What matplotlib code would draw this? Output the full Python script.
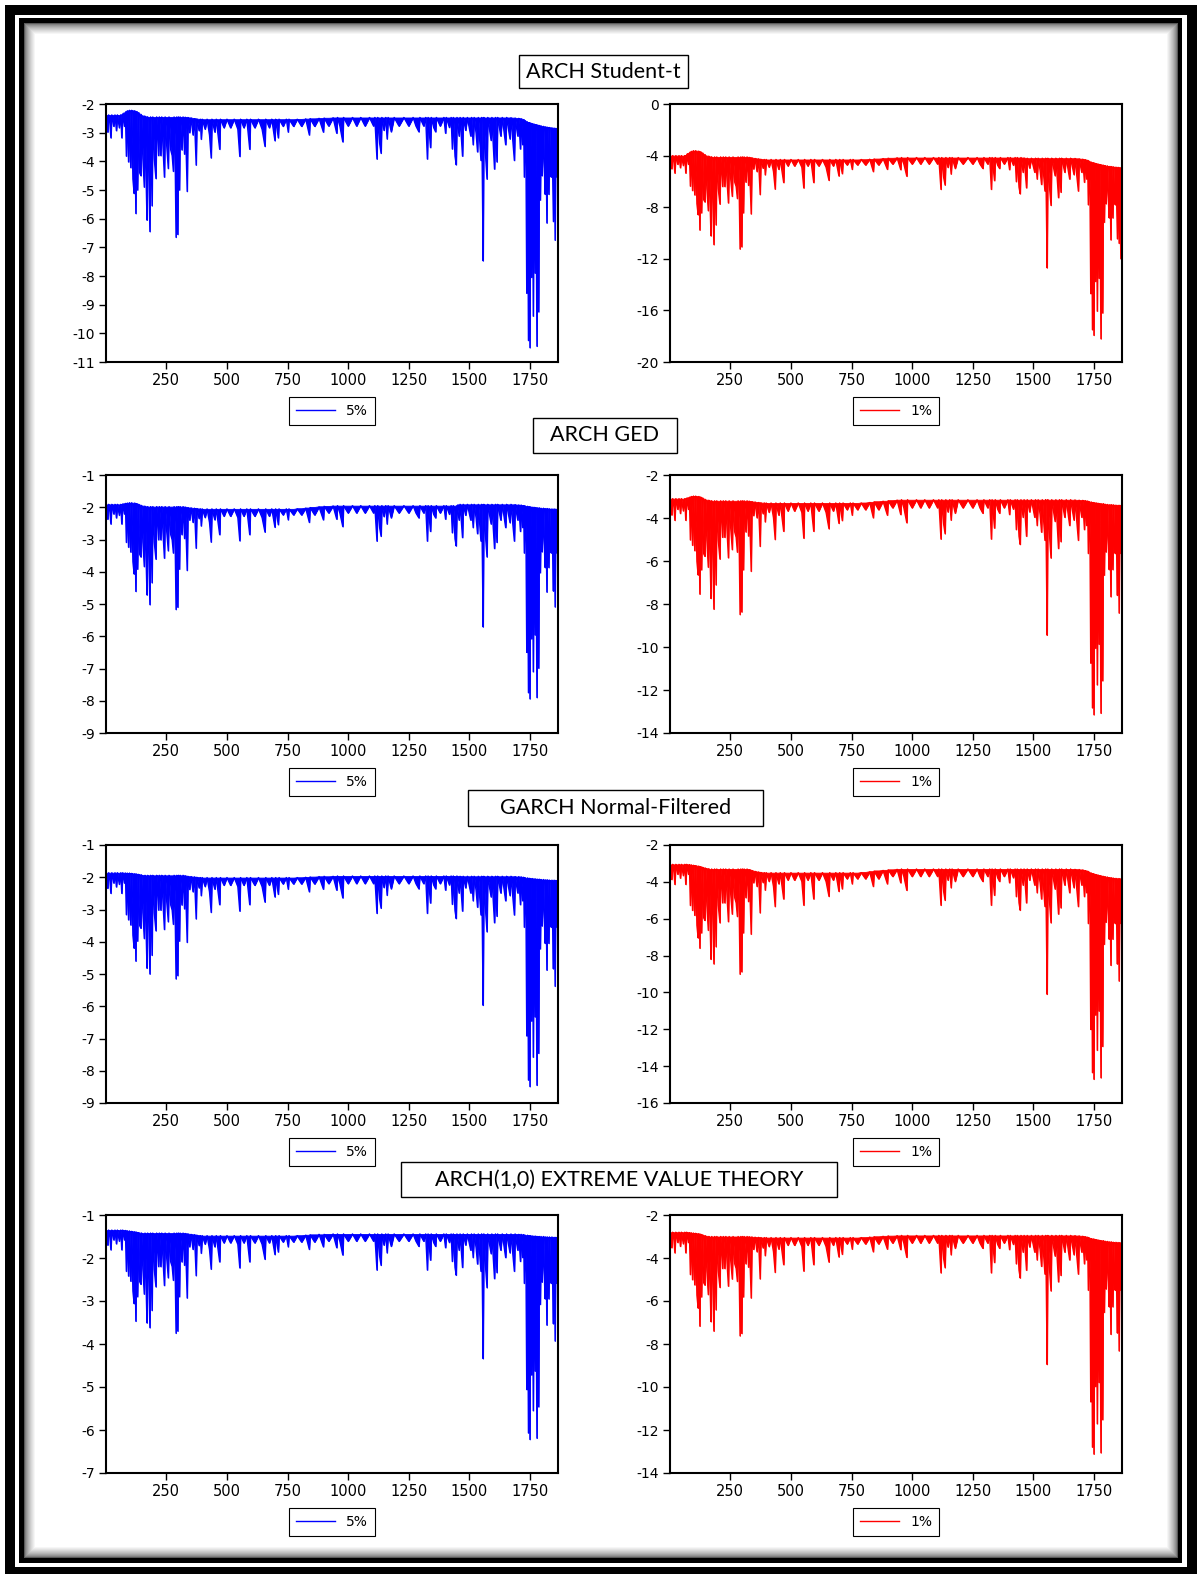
import numpy as np
import pandas as pd
import matplotlib
matplotlib.use("Agg")
import matplotlib.pyplot as plt
from matplotlib.patches import Rectangle

plt.rcParams['axes.unicode_minus'] = False
plt.rcParams['font.family'] = ['DejaVu Sans']

# observation index of each sampled point (shared by all series)
obs = [1, 5, 8, 12, 17, 21, 25, 33, 38, 44, 48, 56, 62, 66, 70, 77,
       81, 85, 89, 94, 98, 103, 107, 112, 117, 120, 124, 127,
       131, 135, 140, 145, 148, 153, 159, 162, 166, 170, 173, 177, 182, 185, 191, 194, 200, 207, 210, 218, 221, 227, 231, 236, 242, 245, 251, 258, 261, 268, 274, 279, 282, 286, 290, 293, 297, 300, 304, 307, 314, 319, 325, 328, 336, 339, 346,
       352, 360, 366, 373, 376, 385, 390, 394, 398, 410, 418, 428, 435, 438, 450, 456, 470, 473, 488, 500, 515, 530, 545, 553, 556, 570, 582, 594, 597, 615, 630, 645, 657, 660, 675, 685, 698, 701, 712, 715, 732, 745, 753, 756, 775, 790, 808, 825, 840, 843, 862, 880, 898,
       901, 920, 938, 953, 956, 966, 978, 981, 1000, 1018, 1035, 1052, 1070, 1088, 1105, 1110, 1119, 1122, 1130, 1136, 1139, 1148, 1155, 1161, 1165, 1178, 1190, 1210, 1230, 1250, 1268, 1280, 1292, 1296, 1312, 1320, 1327, 1330, 1340, 1343, 1353, 1361, 1364, 1380, 1395, 1402, 1405, 1418, 1425, 1430, 1434, 1441, 1446, 1449,
       1458, 1462, 1472, 1475, 1485, 1492, 1506, 1509, 1516, 1520, 1528, 1534, 1537, 1548, 1551, 1554, 1557, 1560, 1565, 1573, 1576, 1590, 1593, 1604, 1608, 1614, 1617, 1630, 1636, 1650, 1654, 1668, 1672, 1686, 1689, 1700, 1704, 1711, 1714, 1720,
       1724, 1727, 1730, 1734, 1737, 1740, 1744, 1747, 1750, 1753, 1757, 1760, 1764, 1767, 1771, 1774, 1779, 1782, 1786, 1789, 1793, 1796, 1800, 1803, 1806, 1810, 1813, 1816, 1820, 1823, 1828, 1831, 1835, 1838, 1841, 1844, 1847, 1850, 1854, 1857, 1861, 1864, 1866]

# ARCH Student-t
stud_5 = [-2.38, -2.78, -2.98, -2.38, -2.68, -3.18, -2.38, -2.78, -2.38, -2.93, -2.38, -2.83, -2.38, -3.18, -2.36, -2.78,
          -2.3, -3.82, -2.24, -4.02, -2.22, -4.22, -2.22, -4.62, -5.12, -2.24, -5.82, -2.28,
          -5.0, -2.34, -4.4, -4.5, -2.4, -3.9, -4.9, -2.43, -4.4, -6.05, -2.45, -4.2, -6.45, -2.45, -5.55, -2.45, -3.9, -4.6, -2.45, -3.8, -2.45, -3.8, -2.45, -3.5, -4.55, -2.45, -3.4, -4.25, -2.45, -3.6, -3.8, -4.35, -2.45, -3.7, -6.65, -2.45, -6.55, -2.45, -5.0, -2.45, -3.6, -2.45, -3.75, -2.46, -5.05, -2.47, -3.0,
          -2.49, -3.08, -2.51, -4.13, -2.52, -2.93, -2.53, -3.23, -2.53, -2.88, -2.53, -3.08, -3.88, -2.53, -2.98, -2.53, -3.58, -2.53, -2.83, -2.53, -2.83, -2.53, -2.88, -3.83, -2.53, -2.83, -2.53, -3.58, -2.53, -2.83, -2.53, -2.88, -3.48, -2.53, -2.83, -2.53, -3.28, -2.53, -3.18, -2.53, -2.78, -2.53, -2.98, -2.53, -2.78, -2.53, -2.78, -2.52, -3.08, -2.51, -2.78, -2.5, -2.98,
          -2.49, -2.77, -2.48, -3.02, -2.47, -2.77, -3.32, -2.47, -2.77, -2.47, -2.77, -2.47, -2.77, -2.47, -2.77, -2.47, -3.92, -2.47, -3.37, -3.72, -2.47, -2.92, -2.47, -3.22, -2.47, -2.97, -2.47, -2.77, -2.47, -2.77, -2.47, -2.77, -2.97, -2.47, -2.77, -2.47, -3.92, -2.47, -3.52, -2.47, -2.82, -2.97, -2.47, -2.77, -2.47, -3.02, -2.47, -2.82, -2.47, -3.57, -2.47, -3.82, -4.12, -2.47,
          -3.12, -2.47, -3.82, -2.47, -2.92, -2.47, -3.12, -2.47, -3.42, -2.47, -3.02, -3.67, -2.47, -3.97, -2.47, -4.77, -7.47, -2.47, -3.52, -4.62, -2.47, -3.27, -2.47, -4.27, -2.47, -4.02, -2.47, -3.12, -2.47, -3.42, -2.47, -3.22, -2.48, -3.97, -2.49, -3.12, -2.5, -3.57, -2.52, -3.42,
          -2.56, -4.55, -2.6, -4.2, -8.6, -2.63, -10.25, -2.65, -10.5, -2.67, -8.05, -2.69, -9.4, -2.7, -7.9, -2.72, -10.45, -2.74, -9.25, -2.75, -5.35, -2.77, -4.5, -3.9, -2.78, -4.4, -5.15, -2.8, -6.15, -2.81, -5.15, -2.82, -4.2, -4.55, -2.83, -4.6, -6.1, -2.84, -6.75, -2.85, -4.55, -2.86, -2.86]
stud_1 = [-4.0, -4.68, -5.02, -4.0, -4.51, -5.36, -4.0, -4.68, -4.0, -4.94, -4.0, -4.77, -4.0, -5.36, -3.95, -4.68,
          -3.8, -6.37, -3.68, -6.71, -3.62, -7.05, -3.62, -7.73, -8.58, -3.66, -9.77, -3.75,
          -8.44, -3.88, -7.42, -7.59, -4.0, -6.57, -8.27, -4.06, -7.42, -10.22, -4.1, -7.08, -10.9, -4.1, -9.37, -4.1, -6.57, -7.76, -4.1, -6.4, -4.1, -6.4, -4.1, -5.89, -7.67, -4.1, -5.72, -7.16, -4.1, -6.06, -6.4, -7.33, -4.1, -6.23, -11.24, -4.1, -11.07, -4.1, -8.44, -4.1, -6.06, -4.1, -6.31, -4.14, -8.52, -4.18, -5.04,
          -4.22, -5.24, -4.26, -7.02, -4.28, -4.98, -4.3, -5.49, -4.3, -4.9, -4.3, -5.24, -6.6, -4.3, -5.07, -4.3, -6.09, -4.3, -4.81, -4.3, -4.81, -4.3, -4.9, -6.51, -4.3, -4.81, -4.3, -6.09, -4.3, -4.81, -4.3, -4.9, -5.92, -4.3, -4.81, -4.3, -5.58, -4.3, -5.4, -4.3, -4.73, -4.3, -5.07, -4.3, -4.73, -4.3, -4.73, -4.28, -5.24, -4.26, -4.73, -4.23, -5.07,
          -4.2, -4.66, -4.17, -5.09, -4.15, -4.66, -5.6, -4.15, -4.66, -4.15, -4.66, -4.15, -4.66, -4.15, -4.66, -4.15, -6.62, -4.15, -5.68, -6.28, -4.15, -4.92, -4.15, -5.43, -4.15, -5.0, -4.15, -4.66, -4.15, -4.66, -4.15, -4.66, -5.0, -4.15, -4.66, -4.15, -6.62, -4.15, -5.94, -4.15, -4.75, -5.0, -4.15, -4.66, -4.15, -5.09, -4.15, -4.75, -4.15, -6.02, -4.15, -6.45, -6.96, -4.15,
          -5.3, -4.2, -6.5, -4.2, -4.97, -4.2, -5.3, -4.2, -5.82, -4.2, -5.14, -6.24, -4.2, -6.75, -4.2, -8.11, -12.7, -4.2, -5.99, -7.86, -4.2, -5.56, -4.2, -7.26, -4.2, -6.84, -4.2, -5.3, -4.2, -5.82, -4.2, -5.48, -4.22, -6.75, -4.25, -5.3, -4.28, -6.07, -4.32, -5.82,
          -4.39, -7.81, -4.46, -7.22, -14.7, -4.52, -17.5, -4.55, -17.93, -4.59, -13.76, -4.63, -16.06, -4.65, -13.51, -4.69, -18.2, -4.73, -16.2, -4.74, -9.17, -4.78, -7.73, -6.71, -4.8, -7.56, -8.83, -4.84, -10.53, -4.85, -8.83, -4.88, -7.22, -7.81, -4.89, -7.9, -10.45, -4.91, -10.8, -4.93, -12.0, -4.95, -4.95]

# ARCH GED
ged_5 = [-1.91, -2.21, -2.37, -1.91, -2.14, -2.52, -1.91, -2.21, -1.91, -2.33, -1.91, -2.25, -1.91, -2.52, -1.9, -2.21,
         -1.88, -3.09, -1.87, -3.24, -1.86, -3.39, -1.86, -3.69, -4.07, -1.87, -4.61, -1.89,
         -3.92, -1.92, -3.46, -3.54, -1.95, -3.08, -3.84, -1.97, -3.46, -4.72, -1.98, -3.31, -5.02, -1.98, -4.34, -1.98, -3.08, -3.61, -1.98, -3.01, -1.98, -3.01, -1.98, -2.78, -3.58, -1.98, -2.7, -3.35, -1.98, -2.85, -3.01, -3.42, -1.98, -2.93, -5.17, -1.98, -5.1, -1.98, -3.92, -1.98, -2.85, -1.98, -2.97, -2.0, -3.96, -2.01, -2.4,
         -2.02, -2.47, -2.03, -3.27, -2.04, -2.35, -2.05, -2.58, -2.05, -2.32, -2.05, -2.47, -3.08, -2.05, -2.39, -2.05, -2.85, -2.05, -2.28, -2.05, -2.28, -2.05, -2.32, -3.04, -2.05, -2.28, -2.05, -2.85, -2.05, -2.28, -2.05, -2.32, -2.77, -2.05, -2.28, -2.05, -2.62, -2.05, -2.54, -2.05, -2.24, -2.05, -2.39, -2.05, -2.24, -2.05, -2.24, -2.03, -2.47, -2.01, -2.24, -1.99, -2.39,
         -1.97, -2.18, -1.96, -2.37, -1.95, -2.18, -2.6, -1.95, -2.18, -1.95, -2.18, -1.95, -2.18, -1.95, -2.18, -1.95, -3.05, -1.95, -2.63, -2.9, -1.95, -2.29, -1.95, -2.52, -1.95, -2.33, -1.95, -2.18, -1.95, -2.18, -1.95, -2.18, -2.33, -1.95, -2.18, -1.95, -3.05, -1.95, -2.75, -1.95, -2.22, -2.33, -1.95, -2.18, -1.95, -2.37, -1.95, -2.22, -1.95, -2.79, -1.95, -2.98, -3.2, -1.95,
         -2.4, -1.91, -2.94, -1.91, -2.25, -1.91, -2.4, -1.91, -2.63, -1.91, -2.33, -2.82, -1.91, -3.05, -1.91, -3.66, -5.71, -1.91, -2.71, -3.54, -1.91, -2.52, -1.91, -3.28, -1.91, -3.09, -1.91, -2.4, -1.91, -2.63, -1.91, -2.48, -1.91, -3.05, -1.92, -2.4, -1.93, -2.75, -1.93, -2.63,
         -1.95, -3.42, -1.96, -3.15, -6.5, -1.97, -7.75, -1.98, -7.94, -1.99, -6.08, -2.0, -7.1, -2.0, -5.96, -2.01, -7.9, -2.02, -6.99, -2.02, -4.03, -2.03, -3.38, -2.92, -2.03, -3.3, -3.87, -2.04, -4.63, -2.04, -3.87, -2.05, -3.15, -3.42, -2.05, -3.46, -4.6, -2.05, -5.09, -2.06, -3.42, -2.06, -2.06]
ged_1 = [-3.1, -3.6, -3.86, -3.1, -3.48, -4.11, -3.1, -3.6, -3.1, -3.79, -3.1, -3.67, -3.1, -4.11, -3.08, -3.6,
         -3.04, -5.02, -3.0, -5.27, -2.98, -5.52, -2.98, -6.02, -6.65, -3.0, -7.54, -3.04,
         -6.41, -3.1, -5.66, -5.78, -3.15, -5.03, -6.29, -3.18, -5.66, -7.74, -3.2, -5.4, -8.24, -3.2, -7.11, -3.2, -5.03, -5.91, -3.2, -4.9, -3.2, -4.9, -3.2, -4.52, -5.85, -3.2, -4.4, -5.47, -3.2, -4.65, -4.9, -5.59, -3.2, -4.78, -8.49, -3.2, -8.37, -3.2, -6.41, -3.2, -4.65, -3.2, -4.84, -3.22, -6.48, -3.24, -3.89,
         -3.26, -3.99, -3.28, -5.32, -3.29, -3.8, -3.3, -4.18, -3.3, -3.74, -3.3, -3.99, -5.0, -3.3, -3.87, -3.3, -4.62, -3.3, -3.68, -3.3, -3.68, -3.3, -3.74, -4.94, -3.3, -3.68, -3.3, -4.62, -3.3, -3.68, -3.3, -3.74, -4.5, -3.3, -3.68, -3.3, -4.25, -3.3, -4.12, -3.3, -3.62, -3.3, -3.87, -3.3, -3.62, -3.3, -3.62, -3.28, -3.99, -3.25, -3.62, -3.22, -3.87,
         -3.2, -3.53, -3.17, -3.84, -3.15, -3.53, -4.22, -3.15, -3.53, -3.15, -3.53, -3.15, -3.53, -3.15, -3.53, -3.15, -4.98, -3.15, -4.28, -4.73, -3.15, -3.72, -3.15, -4.1, -3.15, -3.78, -3.15, -3.53, -3.15, -3.53, -3.15, -3.53, -3.78, -3.15, -3.53, -3.15, -4.98, -3.15, -4.47, -3.15, -3.59, -3.78, -3.15, -3.53, -3.15, -3.84, -3.15, -3.59, -3.15, -4.54, -3.15, -4.85, -5.23, -3.15,
         -3.97, -3.15, -4.85, -3.15, -3.72, -3.15, -3.97, -3.15, -4.35, -3.15, -3.84, -4.66, -3.15, -5.04, -3.15, -6.05, -9.45, -3.15, -4.47, -5.86, -3.15, -4.16, -3.15, -5.42, -3.15, -5.1, -3.15, -3.97, -3.15, -4.35, -3.15, -4.1, -3.16, -5.04, -3.17, -3.97, -3.18, -4.54, -3.19, -4.35,
         -3.22, -5.65, -3.24, -5.21, -10.75, -3.26, -12.83, -3.28, -13.15, -3.29, -10.06, -3.3, -11.76, -3.31, -9.87, -3.33, -13.08, -3.34, -11.57, -3.34, -6.66, -3.36, -5.58, -4.83, -3.37, -5.46, -6.4, -3.38, -7.66, -3.38, -6.4, -3.39, -5.21, -5.65, -3.4, -5.71, -7.6, -3.41, -8.42, -3.41, -5.65, -3.42, -3.42]

# GARCH Normal-Filtered
garch_5 = [-1.86, -2.18, -2.34, -1.86, -2.1, -2.5, -1.86, -2.18, -1.86, -2.3, -1.86, -2.22, -1.86, -2.5, -1.86, -2.18,
           -1.87, -3.16, -1.87, -3.32, -1.87, -3.48, -1.88, -3.8, -4.2, -1.89, -4.6, -1.9,
           -3.98, -1.91, -3.5, -3.58, -1.93, -3.1, -3.9, -1.94, -3.5, -4.82, -1.94, -3.34, -5.0, -1.94, -4.42, -1.94, -3.1, -3.66, -1.94, -3.02, -1.94, -3.02, -1.94, -2.78, -3.62, -1.94, -2.7, -3.38, -1.94, -2.86, -3.02, -3.46, -1.94, -2.94, -5.15, -1.94, -5.05, -1.94, -3.98, -1.94, -2.86, -1.94, -2.98, -1.96, -4.02, -1.97, -2.38,
           -1.98, -2.45, -1.99, -3.29, -2.0, -2.33, -2.01, -2.57, -2.01, -2.29, -2.01, -2.45, -3.09, -2.01, -2.37, -2.01, -2.85, -2.01, -2.25, -2.01, -2.25, -2.01, -2.29, -3.05, -2.01, -2.25, -2.01, -2.85, -2.01, -2.25, -2.01, -2.29, -2.77, -2.01, -2.25, -2.01, -2.61, -2.01, -2.53, -2.01, -2.21, -2.01, -2.37, -2.01, -2.21, -2.01, -2.21, -2.0, -2.45, -1.99, -2.21, -1.98, -2.37,
           -1.97, -2.2, -1.97, -2.4, -1.96, -2.2, -2.64, -1.96, -2.2, -1.96, -2.2, -1.96, -2.2, -1.96, -2.2, -1.96, -3.12, -1.96, -2.68, -2.96, -1.96, -2.32, -1.96, -2.56, -1.96, -2.36, -1.96, -2.2, -1.96, -2.2, -1.96, -2.2, -2.36, -1.96, -2.2, -1.96, -3.12, -1.96, -2.8, -1.96, -2.24, -2.36, -1.96, -2.2, -1.96, -2.4, -1.96, -2.24, -1.96, -2.84, -1.96, -3.04, -3.28, -1.96,
           -2.49, -1.97, -3.05, -1.97, -2.33, -1.97, -2.49, -1.97, -2.73, -1.97, -2.41, -2.93, -1.97, -3.17, -1.97, -3.81, -5.97, -1.97, -2.81, -3.69, -1.97, -2.61, -1.97, -3.41, -1.97, -3.21, -1.97, -2.49, -1.97, -2.73, -1.97, -2.57, -1.97, -3.17, -1.98, -2.49, -1.98, -2.85, -1.99, -2.73,
           -2.0, -3.55, -2.02, -3.26, -6.92, -2.02, -8.29, -2.03, -8.49, -2.04, -6.46, -2.04, -7.58, -2.05, -6.33, -2.05, -8.45, -2.06, -7.46, -2.06, -4.22, -2.07, -3.51, -3.01, -2.07, -3.43, -4.05, -2.08, -4.88, -2.08, -4.05, -2.09, -3.26, -3.55, -2.09, -3.6, -4.84, -2.09, -5.38, -2.1, -3.55, -2.1, -2.1]
garch_1 = [-3.05, -3.59, -3.87, -3.05, -3.46, -4.14, -3.05, -3.59, -3.05, -3.8, -3.05, -3.66, -3.05, -4.14, -3.05, -3.59,
           -3.07, -5.28, -3.08, -5.55, -3.1, -5.82, -3.12, -6.36, -7.04, -3.15, -7.6, -3.18,
           -6.77, -3.22, -5.95, -6.09, -3.26, -5.27, -6.63, -3.3, -5.95, -8.2, -3.3, -5.68, -8.45, -3.3, -7.52, -3.3, -5.27, -6.22, -3.3, -5.14, -3.3, -5.14, -3.3, -4.73, -6.16, -3.3, -4.59, -5.75, -3.3, -4.86, -5.14, -5.88, -3.3, -5.0, -9.01, -3.3, -8.88, -3.3, -6.77, -3.3, -4.86, -3.3, -5.07, -3.35, -6.84, -3.4, -4.05,
           -3.44, -4.25, -3.47, -5.68, -3.49, -4.04, -3.5, -4.45, -3.5, -3.98, -3.5, -4.25, -5.34, -3.5, -4.11, -3.5, -4.93, -3.5, -3.91, -3.5, -3.91, -3.5, -3.98, -5.27, -3.5, -3.91, -3.5, -4.93, -3.5, -3.91, -3.5, -3.98, -4.79, -3.5, -3.91, -3.5, -4.52, -3.5, -4.38, -3.5, -3.84, -3.5, -4.11, -3.5, -3.84, -3.5, -3.84, -3.46, -4.25, -3.42, -3.84, -3.38, -4.11,
           -3.35, -3.71, -3.32, -4.05, -3.3, -3.71, -4.46, -3.3, -3.71, -3.3, -3.71, -3.3, -3.71, -3.3, -3.71, -3.3, -5.27, -3.3, -4.52, -5.0, -3.3, -3.91, -3.3, -4.32, -3.3, -3.98, -3.3, -3.71, -3.3, -3.71, -3.3, -3.71, -3.98, -3.3, -3.71, -3.3, -5.27, -3.3, -4.73, -3.3, -3.78, -3.98, -3.3, -3.71, -3.3, -4.05, -3.3, -3.78, -3.3, -4.8, -3.3, -5.14, -5.54, -3.3,
           -4.18, -3.3, -5.14, -3.3, -3.91, -3.3, -4.18, -3.3, -4.59, -3.3, -4.05, -4.93, -3.3, -5.34, -3.3, -6.43, -10.1, -3.3, -4.73, -6.22, -3.3, -4.39, -3.3, -5.75, -3.3, -5.41, -3.3, -4.18, -3.3, -4.59, -3.3, -4.32, -3.32, -5.34, -3.33, -4.18, -3.36, -4.8, -3.39, -4.59,
           -3.44, -6.26, -3.49, -5.76, -12.01, -3.53, -14.35, -3.56, -14.71, -3.59, -11.23, -3.61, -13.14, -3.63, -11.01, -3.66, -14.63, -3.69, -12.93, -3.7, -7.39, -3.72, -6.19, -5.33, -3.74, -6.04, -7.11, -3.77, -8.53, -3.78, -7.11, -3.8, -5.76, -6.26, -3.81, -6.33, -8.46, -3.82, -9.38, -3.83, -6.26, -3.85, -3.85]

# ARCH(1,0) EVT
evt_5 = [-1.35, -1.58, -1.7, -1.35, -1.52, -1.81, -1.35, -1.58, -1.35, -1.67, -1.35, -1.61, -1.35, -1.81, -1.35, -1.58,
         -1.36, -2.31, -1.37, -2.42, -1.37, -2.54, -1.38, -2.77, -3.06, -1.39, -3.47, -1.4,
         -2.9, -1.41, -2.55, -2.61, -1.42, -2.26, -2.84, -1.42, -2.55, -3.51, -1.42, -2.44, -3.62, -1.42, -3.22, -1.42, -2.26, -2.67, -1.42, -2.2, -1.42, -2.2, -1.42, -2.03, -2.64, -1.42, -1.97, -2.46, -1.42, -2.09, -2.2, -2.52, -1.42, -2.15, -3.75, -1.42, -3.7, -1.42, -2.9, -1.42, -2.09, -1.42, -2.17, -1.43, -2.93, -1.44, -1.74,
         -1.45, -1.8, -1.46, -2.41, -1.47, -1.71, -1.48, -1.89, -1.48, -1.68, -1.48, -1.8, -2.26, -1.48, -1.74, -1.48, -2.09, -1.48, -1.65, -1.48, -1.65, -1.48, -1.68, -2.23, -1.48, -1.65, -1.48, -2.09, -1.48, -1.65, -1.48, -1.68, -2.03, -1.48, -1.65, -1.48, -1.92, -1.48, -1.86, -1.48, -1.63, -1.48, -1.74, -1.48, -1.63, -1.48, -1.63, -1.47, -1.8, -1.46, -1.63, -1.45, -1.74,
         -1.45, -1.61, -1.44, -1.76, -1.44, -1.61, -1.93, -1.44, -1.61, -1.44, -1.61, -1.44, -1.61, -1.44, -1.61, -1.44, -2.28, -1.44, -1.96, -2.17, -1.44, -1.7, -1.44, -1.88, -1.44, -1.73, -1.44, -1.61, -1.44, -1.61, -1.44, -1.61, -1.73, -1.44, -1.61, -1.44, -2.28, -1.44, -2.05, -1.44, -1.64, -1.73, -1.44, -1.61, -1.44, -1.76, -1.44, -1.64, -1.44, -2.08, -1.44, -2.22, -2.4, -1.44,
         -1.82, -1.44, -2.22, -1.44, -1.7, -1.44, -1.82, -1.44, -1.99, -1.44, -1.76, -2.14, -1.44, -2.31, -1.44, -2.77, -4.34, -1.44, -2.05, -2.69, -1.44, -1.9, -1.44, -2.48, -1.44, -2.34, -1.44, -1.82, -1.44, -1.99, -1.44, -1.88, -1.44, -2.31, -1.44, -1.82, -1.45, -2.08, -1.45, -1.99,
         -1.46, -2.59, -1.47, -2.37, -5.06, -1.47, -6.07, -1.48, -6.22, -1.48, -4.72, -1.49, -5.55, -1.49, -4.63, -1.49, -6.19, -1.5, -5.46, -1.5, -3.08, -1.5, -2.56, -2.19, -1.5, -2.5, -2.95, -1.51, -3.56, -1.51, -2.95, -1.51, -2.37, -2.59, -1.51, -2.62, -3.53, -1.52, -3.93, -1.52, -2.59, -1.52, -1.52]
evt_1 = [-2.8, -3.28, -3.52, -2.8, -3.16, -3.76, -2.8, -3.28, -2.8, -3.46, -2.8, -3.34, -2.8, -3.76, -2.8, -3.28,
         -2.82, -4.77, -2.83, -5.01, -2.84, -5.25, -2.85, -5.73, -6.33, -2.87, -7.17, -2.9,
         -5.81, -2.94, -5.15, -5.26, -2.97, -4.6, -5.7, -3.0, -5.15, -6.96, -3.0, -4.93, -7.4, -3.0, -6.41, -3.0, -4.6, -5.37, -3.0, -4.49, -3.0, -4.49, -3.0, -4.16, -5.31, -3.0, -4.05, -4.98, -3.0, -4.27, -4.49, -5.09, -3.0, -4.38, -7.62, -3.0, -7.51, -3.0, -5.81, -3.0, -4.27, -3.0, -4.43, -3.01, -5.86, -3.02, -3.6,
         -3.03, -3.71, -3.04, -4.97, -3.05, -3.53, -3.05, -3.89, -3.05, -3.47, -3.05, -3.71, -4.67, -3.05, -3.59, -3.05, -4.31, -3.05, -3.41, -3.05, -3.41, -3.05, -3.47, -4.61, -3.05, -3.41, -3.05, -4.31, -3.05, -3.41, -3.05, -3.47, -4.19, -3.05, -3.41, -3.05, -3.95, -3.05, -3.83, -3.05, -3.35, -3.05, -3.59, -3.05, -3.35, -3.05, -3.35, -3.03, -3.71, -3.01, -3.35, -2.99, -3.59,
         -2.97, -3.31, -2.96, -3.61, -2.95, -3.31, -3.97, -2.95, -3.31, -2.95, -3.31, -2.95, -3.31, -2.95, -3.31, -2.95, -4.69, -2.95, -4.03, -4.45, -2.95, -3.49, -2.95, -3.85, -2.95, -3.55, -2.95, -3.31, -2.95, -3.31, -2.95, -3.31, -3.55, -2.95, -3.31, -2.95, -4.69, -2.95, -4.21, -2.95, -3.37, -3.55, -2.95, -3.31, -2.95, -3.61, -2.95, -3.37, -2.95, -4.27, -2.95, -4.57, -4.93, -2.95,
         -3.73, -2.95, -4.57, -2.95, -3.49, -2.95, -3.73, -2.95, -4.09, -2.95, -3.61, -4.39, -2.95, -4.75, -2.95, -5.71, -8.95, -2.95, -4.21, -5.53, -2.95, -3.91, -2.95, -5.11, -2.95, -4.81, -2.95, -3.73, -2.95, -4.09, -2.95, -3.85, -2.96, -4.75, -2.97, -3.73, -2.99, -4.27, -3.01, -4.09,
         -3.04, -5.5, -3.07, -5.06, -10.69, -3.1, -12.8, -3.11, -13.12, -3.13, -9.98, -3.15, -11.71, -3.16, -9.79, -3.18, -13.06, -3.2, -11.52, -3.2, -6.53, -3.22, -5.44, -4.67, -3.23, -5.31, -6.27, -3.25, -7.55, -3.25, -6.27, -3.27, -5.06, -5.5, -3.27, -5.57, -7.49, -3.28, -8.32, -3.29, -5.5, -3.3, -3.3]

titles = ["ARCH Student-t", "ARCH GED", "GARCH Normal-Filtered", "ARCH(1,0) EXTREME VALUE THEORY"]
series_5 = [stud_5, ged_5, garch_5, evt_5]
series_1 = [stud_1, ged_1, garch_1, evt_1]
ylim_5 = [(-11, -2, 1), (-9, -1, 1), (-9, -1, 1), (-7, -1, 1)]
ylim_1 = [(-20, 0, 4), (-14, -2, 2), (-16, -2, 2), (-14, -2, 2)]
xticks = [250, 500, 750, 1000, 1250, 1500, 1750]

for s in series_5 + series_1:
    assert len(s) == len(obs), len(s)

W, H = 1197, 1574
fig = plt.figure(figsize=(W / 100, H / 100), dpi=100)


def rect(x0, y0, x1, y1, color, z, edge='none', lw=0):
    fig.patches.append(Rectangle((x0 / W, 1 - y1 / H), (x1 - x0) / W, (y1 - y0) / H,
                                 transform=fig.transFigure, facecolor=color,
                                 edgecolor=edge, linewidth=lw, zorder=z))


# double black frame with a soft inner shadow
rect(5, 5, W, H, 'black', -20)
rect(15, 15, 1187, 1567, 'white', -19)
rect(19, 18, 1182, 1563, 'black', -18)
for i in range(12):
    g = 0.35 + 0.65 * (i / 11) ** 0.6
    rect(24 + i, 23 + i, 1178 - i, 1558 - i, (g, g, g), -17 + i * 0.1)

row_top = [104, 475, 845, 1215]
title_ctr = [(603.5, 71.5), (605, 435.5), (615.5, 808), (619, 1179.5)]
title_box = [(169, 33), (144, 35), (295, 36), (436, 35)]
ax_h, ax_w = 258, 452
col_x = [106, 670]

for r in range(4):
    for c in range(2):
        vals = series_5[r] if c == 0 else series_1[r]
        lo, hi, step = ylim_5[r] if c == 0 else ylim_1[r]
        color = 'blue' if c == 0 else 'red'
        lab = '5%' if c == 0 else '1%'
        ax = fig.add_axes([col_x[c] / W, 1 - (row_top[r] + ax_h) / H, ax_w / W, ax_h / H])
        # the daily series is very dense: shade between the line and its local top
        upper = pd.Series(vals).rolling(5, center=True, min_periods=1).max()
        ax.fill_between(obs, vals, upper, color=color, lw=0.6)
        ax.plot(obs, vals, color=color, lw=1.0, label=lab)
        ax.set_xlim(1, 1866)
        ax.set_ylim(lo, hi)
        ax.set_xticks(xticks)
        ax.set_yticks(np.arange(lo, hi + step, step))
        ax.tick_params(axis='both', direction='out', length=5, width=1, top=False, right=False)
        ax.tick_params(axis='x', labelsize=10.5, pad=3)
        ax.tick_params(axis='y', labelsize=10, pad=3)
        for sp in ax.spines.values():
            sp.set_linewidth(1.5)
        leg = ax.legend(loc='center', bbox_to_anchor=(0.5, -49 / ax_h), fontsize=10,
                        frameon=True, fancybox=False, framealpha=1, edgecolor='black',
                        borderpad=0.5, handlelength=2.8, handletextpad=0.8, borderaxespad=0)
        leg.get_frame().set_linewidth(0.8)
        for ln in leg.get_lines():
            ln.set_linewidth(1.0)
    cx, cy = title_ctr[r]
    bw, bh = title_box[r]
    rect(cx - bw / 2, cy - bh / 2, cx + bw / 2, cy + bh / 2, 'white', 5, edge='black', lw=1.0)
    fig.text(cx / W, 1 - cy / H, titles[r], ha='center', va='center', fontsize=15.5,
             family=['Lato', 'DejaVu Sans'], zorder=6)

fig.savefig("out.png", dpi=100)
